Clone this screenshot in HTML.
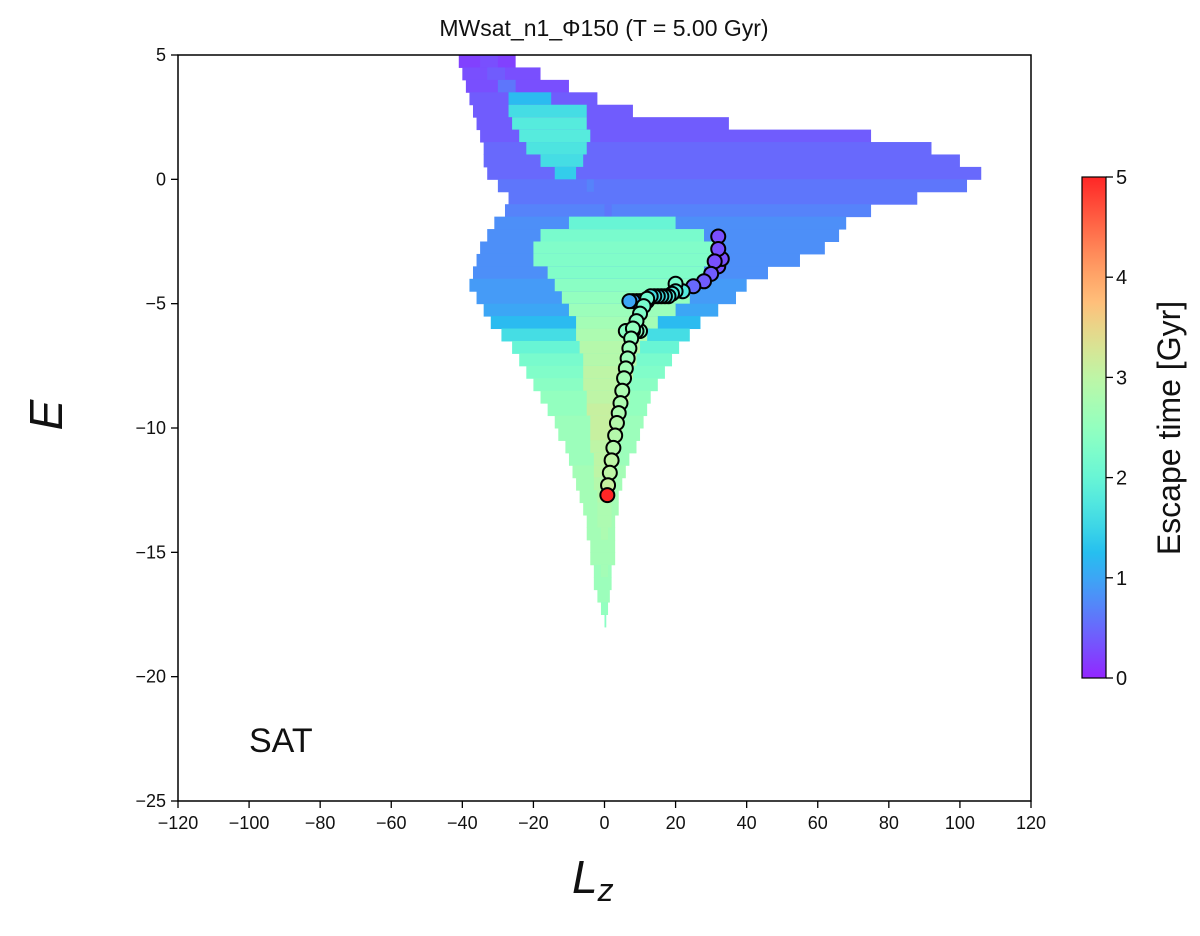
<!DOCTYPE html>
<html><head><meta charset="utf-8"><style>
html,body{margin:0;padding:0;background:#fff;}
svg{display:block;font-family:"Liberation Sans","DejaVu Sans",sans-serif;}
</style></head><body>
<svg id="chart" width="1200" height="936" viewBox="0 0 1200 936" xmlns="http://www.w3.org/2000/svg">
<text x="604" y="36" font-size="23" text-anchor="middle" fill="#111">MWsat_n1_Φ150 (T = 5.00 Gyr)</text>
<g id="heat"></g>
<g id="track"></g>
<rect x="178" y="55" width="853" height="746" fill="none" stroke="#000" stroke-width="1.5"/>
<g id="axes"></g>
<text x="249" y="752" font-size="34" fill="#111">SAT</text>
<text x="62" y="415" font-size="46" font-style="italic" text-anchor="middle" transform="rotate(-90 62 415)" fill="#111">E</text>
<text x="572" y="893" font-size="46" font-style="italic" fill="#111">L<tspan font-size="32" dy="8">z</tspan></text>
<defs><linearGradient id="cbg" x1="0" y1="1" x2="0" y2="0"></linearGradient></defs>
<rect x="1082" y="177" width="24" height="501" fill="url(#cbg)" stroke="#000" stroke-width="1.2"/>
<g id="cbticks"></g>
<text x="1180" y="428" font-size="32" text-anchor="middle" transform="rotate(-90 1180 428)" fill="#111">Escape time [Gyr]</text>
</svg>
<script>
const xTicks=[-120,-100,-80,-60,-40,-20,0,20,40,60,80,100,120];
const yTicks=[5,0,-5,-10,-15,-20,-25];
const cbTicks=[0,1,2,3,4,5];
// heatmap rows: E, Lz min, Lz max, edge escape time, core Lz min, core Lz max, core escape time
const rowE=[4.75,4.25,3.75,3.25,2.75,2.25,1.75,1.25,0.75,0.25,-0.25,-0.75,-1.25,-1.75,-2.25,-2.75,-3.25,-3.75,-4.25,-4.75,-5.25,-5.75,-6.25,-6.75,-7.25,-7.75,-8.25,-8.75,-9.25,-9.75,-10.25,-10.75,-11.25,-11.75,-12.25,-12.75,-13.25,-13.75,-14.25,-14.75,-15.25,-15.75,-16.25,-16.75,-17.25,-17.75];
const rowMin=[-41,-40,-39,-38,-37,-36,-35,-34,-34,-33,-30,-27,-28,-31,-33,-35,-36,-37,-38,-36,-34,-32,-29,-26,-24,-22,-20,-18,-16,-14,-13,-11,-10,-9,-8,-7,-6,-5,-5,-4,-4,-3,-3,-2,-1,0];
const rowMax=[-25,-18,-10,-2,8,35,75,92,100,106,102,88,75,68,66,62,55,46,40,37,32,27,24,21,19,17,15,13,12,11,10,9,7,6,5,4,4,3,3,3,3,2,2,1.5,1,0.5];
const rowEdgeT=[0.2,0.3,0.3,0.4,0.4,0.4,0.4,0.5,0.5,0.5,0.6,0.6,0.7,0.8,0.8,0.8,0.8,0.8,0.9,0.9,1.0,1.2,1.6,2.0,2.2,2.3,2.4,2.5,2.5,2.6,2.6,2.6,2.6,2.7,2.7,2.7,2.7,2.7,2.7,2.7,2.7,2.6,2.6,2.6,2.5,2.4];
const coreMin=[-35,-33,-30,-27,-27,-26,-24,-22,-18,-14,-5,0,0,-10,-18,-20,-20,-16,-14,-12,-10,-8,-8,-7,-6,-6,-6,-5,-5,-4,-4,-4,-3,-3,-3,-2,-2,-2,-1,-1,-1,-1,-1,0,0,0];
const coreMax=[-30,-28,-25,-15,-5,-5,-4,-5,-6,-8,-3,2,2,20,28,32,30,28,26,24,20,15,12,10,9,8,7,7,6,5,5,4,4,3,3,2,2,2,1,1,1,1,1,1,0,0];
const coreT=[0.3,0.4,0.6,1.2,1.6,1.8,1.8,1.7,1.6,1.4,0.7,0.6,0.6,2.0,2.2,2.3,2.3,2.3,2.4,2.5,2.6,2.7,2.8,2.9,2.9,3.0,3.0,3.0,3.1,3.1,3.1,3.0,3.0,3.0,2.9,2.9,2.8,2.8,2.8,2.7,2.7,2.7,2.6,2.6,2.5,2.4];
// satellite track
const trackLz=[0.8,1,1.5,2,2.5,3,3.5,4,4.5,5,5.5,6,6.5,7,7.5,8,9,10,11,12,6,7,8,9,10,7,8,9,10,11,12,13,14,15,16,17,18,19,20,20,22,25,28,30,31,32,32,33,32];
const trackE=[-12.7,-12.3,-11.8,-11.3,-10.8,-10.3,-9.8,-9.4,-9.0,-8.5,-8.0,-7.6,-7.2,-6.8,-6.4,-6.0,-5.7,-5.4,-5.1,-4.8,-6.1,-6.1,-6.1,-6.1,-6.1,-4.9,-4.9,-4.9,-4.9,-4.9,-4.9,-4.7,-4.7,-4.7,-4.7,-4.7,-4.7,-4.6,-4.5,-4.2,-4.5,-4.3,-4.1,-3.8,-3.3,-2.8,-2.3,-3.2,-3.5];
const trackT=[5,3.1,3,3,2.9,2.9,2.9,2.8,2.8,2.8,2.7,2.7,2.6,2.6,2.5,2.5,2.4,2.3,2.2,2.1,2.4,2.4,2.4,2.4,2.4,1.0,1.0,1.0,1.0,1.1,1.2,1.6,1.6,1.6,1.6,1.7,1.8,1.8,1.9,2.2,1.8,0.5,0.4,0.4,0.3,0.3,0.3,0.3,0.3];

const NS='http://www.w3.org/2000/svg';
const X0=178,X1=1031,Y0=55,Y1=801;
function xs(v){return X0+(v+120)/240*(X1-X0);}
function ys(v){return Y0+(5-v)/30*(Y1-Y0);}
function cmap(t){const x=Math.max(0,Math.min(1,t/5));
 const c=v=>Math.round(255*Math.max(0,Math.min(1,v)));
 const r=c(Math.abs(2*x-0.5)),g=c(Math.sin(Math.PI*x)),b=c(Math.cos(Math.PI*x/2));
 const a=0.85;const m=v=>Math.round(v*a+255*(1-a));
 return `rgb(${m(r)},${m(g)},${m(b)})`;}
function mk(tag,attrs,parent){const e=document.createElementNS(NS,tag);for(const k in attrs)e.setAttribute(k,attrs[k]);parent.appendChild(e);return e;}

const heat=document.getElementById('heat');
const h=ys(0)-ys(0.5);
for(let i=0;i<rowE.length;i++){
 const yTop=ys(rowE[i]+0.25);
 const r=mk('rect',{x:xs(rowMin[i]),y:yTop,width:xs(rowMax[i])-xs(rowMin[i]),height:h+0.5,fill:cmap(rowEdgeT[i])},heat);
 
 
 const c=mk('rect',{x:xs(coreMin[i]),y:yTop,width:Math.max(0,xs(coreMax[i])-xs(coreMin[i])),height:h+0.5,fill:cmap(coreT[i])},heat);
 
 
}
const track=document.getElementById('track');
for(let i=trackLz.length-1;i>=0;i--){
 const p=mk('circle',{cx:xs(trackLz[i]),cy:ys(trackE[i]),r:7,fill:cmap(trackT[i]),stroke:'#000','stroke-width':2},track);
 
 
}
const axes=document.getElementById('axes');
xTicks.forEach(v=>{const x=xs(v);
 const l=mk('line',{x1:x,y1:Y1,x2:x,y2:Y1+7,stroke:'#000','stroke-width':1.3},axes);
 
 
 const t=mk('text',{x:x,y:Y1+28,'font-size':18,'text-anchor':'middle',fill:'#111'},axes);
 
 
 t.textContent=(v<0?'\u2212'+(-v):v);});
yTicks.forEach(v=>{const y=ys(v);
 const l=mk('line',{x1:X0-7,y1:y,x2:X0,y2:y,stroke:'#000','stroke-width':1.3},axes);
 
 
 const t=mk('text',{x:X0-12,y:y+6,'font-size':18,'text-anchor':'end',fill:'#111'},axes);
 
 
 t.textContent=(v<0?'\u2212'+(-v):v);});
const g=document.getElementById('cbg');
for(let k=0;k<=20;k++){mk('stop',{offset:k/20,'stop-color':cmap(k/4)},g);}
const cb=document.getElementById('cbticks');
cbTicks.forEach(v=>{const y=678-v/5*501;
 const l=mk('line',{x1:1106,y1:y,x2:1113,y2:y,stroke:'#000','stroke-width':1.3},cb);
 
 
 const t=mk('text',{x:1116,y:y+7,'font-size':20,fill:'#111'},cb);
 
 
 t.textContent=v;});
</script>
</body></html>
